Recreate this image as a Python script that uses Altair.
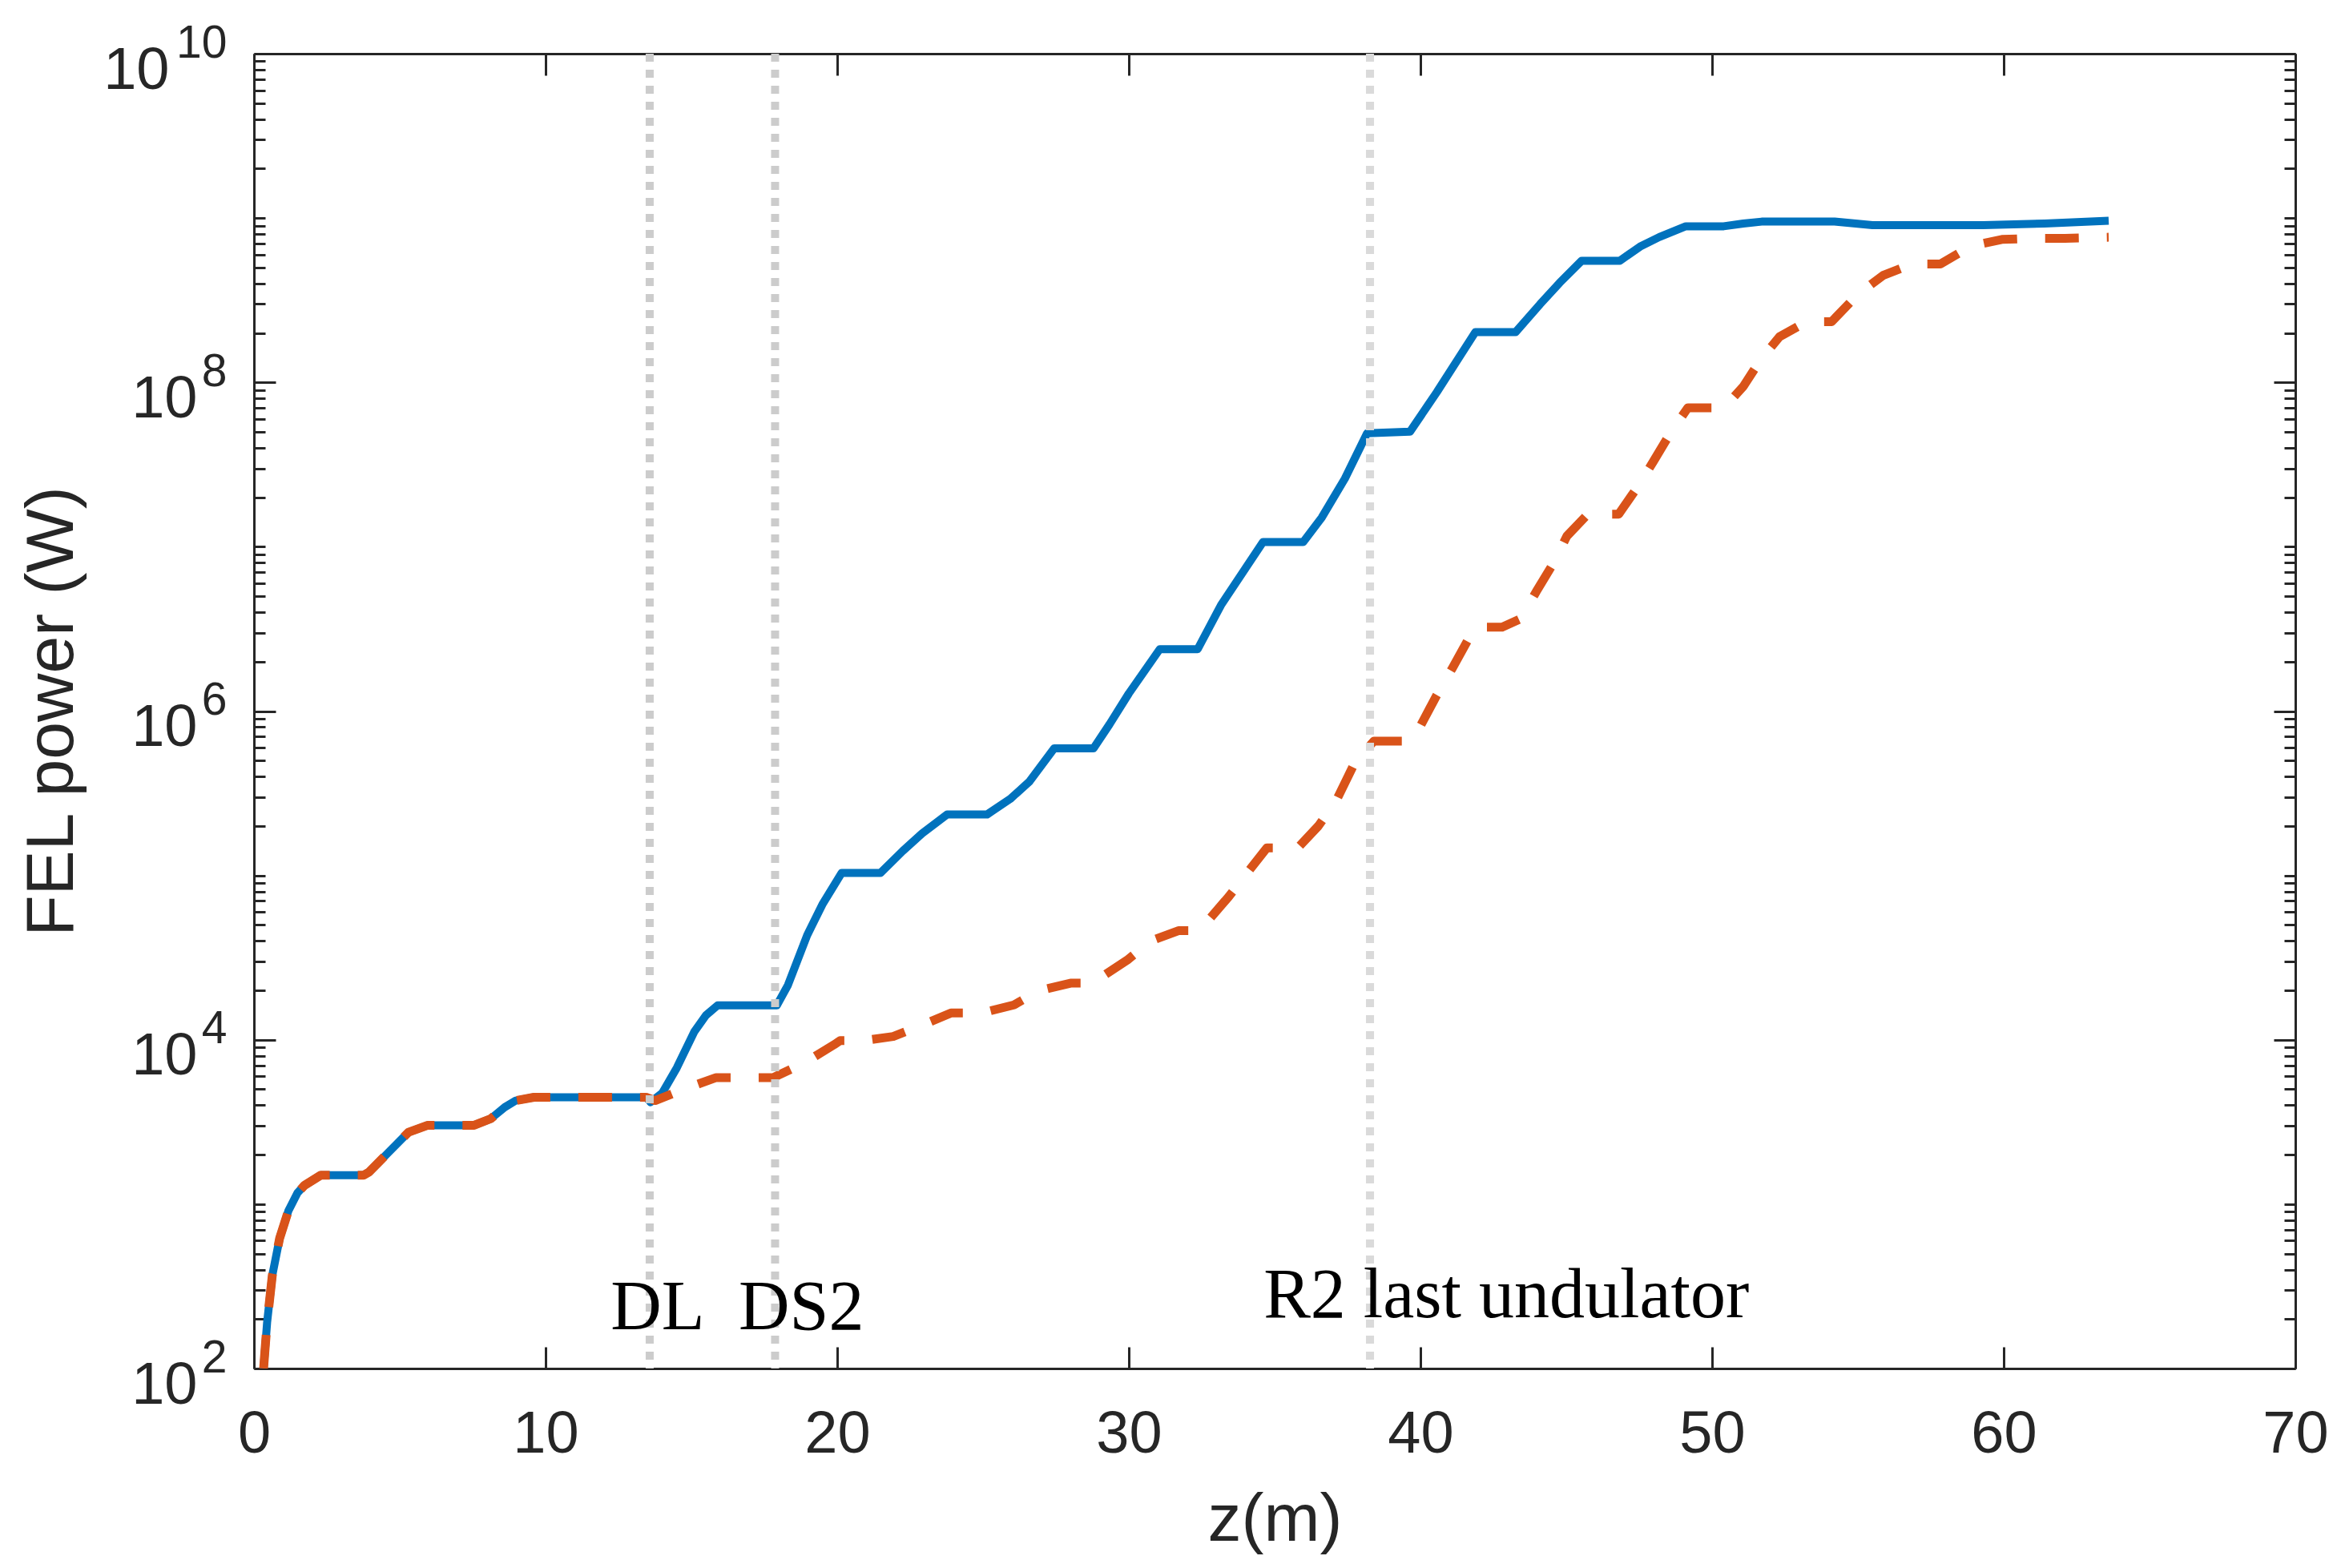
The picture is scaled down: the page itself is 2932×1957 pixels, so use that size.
import altair as alt
import pandas as pd

# ---------------- data ----------------
z_blue = [0.33, 0.45, 0.63, 0.88, 1.18, 1.49, 1.73, 2.29, 3.76, 3.95, 4.62, 5.3, 5.96, 7.55,
          8.12, 8.6, 8.98, 9.6, 13.45, 13.6, 14.0, 14.5, 15.1, 15.5, 15.9, 17.93, 18.31, 18.97,
          19.49, 20.15, 21.48, 22.25, 22.91, 23.77, 25.14, 25.93, 26.59, 27.44, 28.79, 29.34,
          30.0, 31.06, 32.36, 33.16, 34.6, 35.98, 36.62, 37.41, 38.17, 39.64, 40.56, 41.88,
          43.26, 44.1, 44.77, 45.53, 46.84, 47.53, 48.19, 49.1, 50.4, 51.07, 51.7, 54.2, 55.5,
          59.3, 61.4, 63.6]
p_blue = [1.0e2, 1.9e2, 3.7e2, 6.2e2, 9.1e2, 1.17e3, 1.30e3, 1.50e3, 1.50e3, 1.57e3, 2.07e3,
          2.74e3, 3.02e3, 3.02e3, 3.31e3, 3.89e3, 4.27e3, 4.47e3, 4.47e3, 4.17e3, 4.74e3,
          6.76e3, 1.12e4, 1.41e4, 1.62e4, 1.62e4, 2.15e4, 4.33e4, 6.65e4, 1.035e5, 1.035e5,
          1.41e5, 1.80e5, 2.35e5, 2.35e5, 2.92e5, 3.72e5, 5.93e5, 5.93e5, 8.32e5, 1.28e6,
          2.38e6, 2.38e6, 4.41e6, 1.067e7, 1.067e7, 1.51e7, 2.60e7, 4.90e7, 5.01e7, 8.71e7,
          2.02e8, 2.02e8, 2.99e8, 4.03e8, 5.50e8, 5.50e8, 6.70e8, 7.66e8, 8.91e8, 8.91e8,
          9.25e8, 9.51e8, 9.51e8, 9.06e8, 9.06e8, 9.25e8, 9.62e8]

z_orange = [0.33, 0.45, 0.63, 0.88, 1.18, 1.49, 1.73, 2.29, 3.76, 3.95, 4.62, 5.3, 5.96, 7.55,
            8.12, 8.6, 8.98, 9.6, 13.45, 13.76, 14.74, 15.85, 17.8, 18.83, 19.89, 20.1, 20.9,
            21.92, 22.77, 23.9, 24.95, 26.06, 26.92, 28.0, 28.76, 29.0, 29.94, 30.73, 31.7,
            32.36, 32.63, 33.42, 34.08, 34.73, 35.79, 36.5, 37.1, 37.76, 38.4, 39.64, 40.0,
            40.56, 41.09, 41.87, 42.8, 43.45, 43.97, 44.56, 45.02, 45.74, 46.8, 47.46, 47.99,
            48.58, 49.17, 50.41, 51.07, 51.67, 52.32, 53.24, 54.1, 55.0, 55.87, 56.85, 57.83,
            58.89, 59.94, 61.05, 62.1, 63.6]
p_orange = [1.0e2, 1.9e2, 3.7e2, 6.2e2, 9.1e2, 1.17e3, 1.30e3, 1.50e3, 1.50e3, 1.57e3, 2.07e3,
            2.74e3, 3.02e3, 3.02e3, 3.31e3, 3.89e3, 4.27e3, 4.47e3, 4.47e3, 4.27e3, 5.01e3,
            5.89e3, 5.89e3, 7.16e3, 9.33e3, 9.89e3, 9.89e3, 1.047e4, 1.20e4, 1.455e4, 1.455e4,
            1.63e4, 1.99e4, 2.21e4, 2.21e4, 2.37e4, 3.05e4, 3.98e4, 4.61e4, 4.61e4, 5.09e4,
            7.41e4, 1.047e5, 1.47e5, 1.47e5, 2.0e5, 2.82e5, 4.90e5, 6.56e5, 6.56e5, 8.13e5,
            1.25e6, 1.82e6, 3.24e6, 3.24e6, 3.66e6, 5.33e6, 7.94e6, 1.16e7, 1.58e7, 1.58e7,
            2.33e7, 3.31e7, 4.95e7, 7.01e7, 7.01e7, 9.44e7, 1.38e8, 1.90e8, 2.34e8, 2.34e8,
            3.43e8, 4.48e8, 5.25e8, 5.25e8, 6.76e8, 7.41e8, 7.53e8, 7.53e8, 7.64e8]

vline_z = [13.57, 17.87, 38.27]
vline_color = ["#CCCCCC", "#CCCCCC", "#DADADA"]

label_text = ["DL", "DS2", "R2 last undulator"]
label_z = [12.23, 16.62, 34.62]
label_p = [173, 173, 205]

x_ticks = [0, 10, 20, 30, 40, 50, 60, 70]
y_major = [1e2, 1e4, 1e6, 1e8, 1e10]
y_minor = [m * 10.0 ** k for k in range(2, 10) for m in range(2, 10)] + [1e3, 1e5, 1e7, 1e9]

# ---------------- chart ----------------
W, H = 2548, 1641
AX = "#262626"
FONT = "Liberation Sans"

blue_df = pd.DataFrame({"z": z_blue, "p": p_blue})
orange_df = pd.DataFrame({"z": z_orange, "p": p_orange})
vline_df = pd.DataFrame({"z": vline_z, "c": vline_color})
text_df = pd.DataFrame({"z": label_z, "p": label_p, "t": label_text})

xs = alt.Scale(domain=[0, 70], nice=False, zero=False)
ys = alt.Scale(type="log", domain=[1e2, 1e10], nice=False)


def tick_axis(orient, values, size, domain, offset):
    return alt.Axis(orient=orient, offset=offset, values=values, labels=False, ticks=True,
                    tickSize=size, tickWidth=3, tickColor=AX, domain=domain, domainColor=AX,
                    domainWidth=3, grid=False, title=None)


ax_x_labels = alt.Axis(orient="bottom", values=x_ticks, format="d", domain=True, domainColor=AX,
                       domainWidth=3, ticks=False, tickSize=0, grid=False, labelFont=FONT,
                       labelFontSize=74, labelColor=AX, labelPadding=46, labelFlush=False,
                       labelOverlap=False, labelBaseline="top",
                       title="z(m)", titleFont=FONT, titleFontSize=84, titleFontWeight="normal",
                       titleColor=AX, titleX=W / 2, titleY=214, titleAlign="center",
                       titleBaseline="alphabetic")
ax_x_top = tick_axis("bottom", x_ticks, 27, True, -H)
ax_x_bottomticks = tick_axis("top", x_ticks, 27, False, -H)

ax_y_base = alt.Axis(orient="left", values=y_major, labelExpr="'10'", domain=True, domainColor=AX,
                     domainWidth=3, ticks=False, tickSize=0, grid=False, labelFont=FONT,
                     labelFontSize=74, labelColor=AX, labelAlign="right", labelBaseline="middle",
                     labelPadding={"condition": {"test": "datum.value > 1e9", "value": 106}, "value": 71},
                     labelOffset=21, labelOverlap=False, labelFlush=False,
                     title="FEL power (W)", titleFont=FONT, titleFontSize=84,
                     titleFontWeight="normal", titleColor=AX, titleX=-252, titleY=H / 2,
                     titleAngle=270, titleAlign="center", titleBaseline="middle")
ax_y_exp = alt.Axis(orient="left", values=y_major, labelExpr="round(log(datum.value)/LN10) + ''",
                    domain=False, ticks=False, tickSize=0, grid=False, labelFont=FONT,
                    labelFontSize=57, labelColor=AX, labelAlign="right", labelBaseline="middle",
                    labelPadding=34, labelOffset=-13, labelOverlap=False, labelFlush=False,
                    title=None)
ax_y_left_major = tick_axis("right", y_major, 27, False, -W)
ax_y_left_minor = tick_axis("right", y_minor, 14, False, -W)
ax_y_right_major = tick_axis("left", y_major, 27, True, -W)
ax_y_right_minor = tick_axis("left", y_minor, 14, False, -W)

blue = alt.Chart(blue_df).mark_line(color="#0072BD", strokeWidth=10, strokeJoin="round",
                                   clip=True).encode(
    x=alt.X("z:Q", scale=xs, axis=ax_x_labels),
    y=alt.Y("p:Q", scale=ys, axis=ax_y_base),
    order="z:Q")

orange = alt.Chart(orange_df).mark_line(color="#D95319", strokeWidth=11, strokeDash=[42, 35],
                                       strokeJoin="round", clip=True).encode(
    x=alt.X("z:Q", scale=xs, axis=ax_x_top),
    y=alt.Y("p:Q", scale=ys, axis=ax_y_exp),
    order="z:Q")

vlines = alt.Chart(vline_df).mark_rule(strokeWidth=10, strokeDash=[10, 10]).encode(
    x=alt.X("z:Q", scale=xs, axis=ax_x_bottomticks),
    color=alt.Color("c:N", scale=None))

texts = alt.Chart(text_df).mark_text(font="Liberation Serif", fontSize=88, color="#000000",
                                     align="left", baseline="alphabetic").encode(
    x=alt.X("z:Q", scale=xs, axis=None),
    y=alt.Y("p:Q", scale=ys, axis=ax_y_left_major),
    text="t:N")


def ghost(axis):
    return alt.Chart(blue_df).mark_line(opacity=0).encode(
        x=alt.X("z:Q", scale=xs, axis=None),
        y=alt.Y("p:Q", scale=ys, axis=axis))


chart = alt.layer(
    blue, orange, vlines, texts,
    ghost(ax_y_left_minor), ghost(ax_y_right_major), ghost(ax_y_right_minor)
).resolve_axis(x="independent", y="independent").properties(
    width=W, height=H,
    padding={"left": 309, "top": 59, "right": 55, "bottom": 240},
    autosize=alt.AutoSizeParams(type="none"),
    background="white"
).configure_view(stroke=None)

chart.save("out.html", embed_options={"renderer": "svg", "actions": False})
